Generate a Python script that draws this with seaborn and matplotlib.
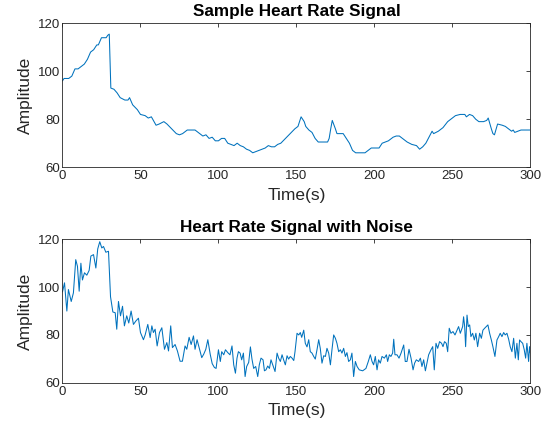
import numpy as np
import pandas as pd
import seaborn as sns
import matplotlib.pyplot as plt

# clean signal (time, amplitude)
t_clean = [0, 1, 4, 6, 8, 10, 12, 14, 16, 18, 20, 22, 23, 25, 28, 29, 30, 31, 33, 35,
           37, 40, 42, 43, 45, 48, 50, 53, 55, 57, 60, 62, 65, 67, 70, 73, 75, 77, 80, 85,
           88, 90, 92, 94, 96, 98, 100, 102, 104, 106, 110, 112, 114, 116, 118, 120, 122, 124, 126, 128,
           130, 132, 134, 136, 138, 140, 143, 146, 149, 151, 152, 153, 155, 156, 158, 160, 162, 164, 170, 171,
           172, 173, 175, 176, 180, 182, 184, 186, 188, 194, 196, 198, 203, 205, 207, 209, 212, 214, 216, 218,
           221, 224, 227, 229, 231, 233, 235, 237, 238, 241, 244, 247, 250, 252, 255, 258, 259, 261, 263, 265,
           267, 270, 272, 273, 275, 276, 277, 279, 282, 284, 286, 288, 289, 290, 292, 294, 296, 300]
hr_clean = [96, 97, 97, 98, 101, 101, 102, 103, 105, 108, 109, 111, 111, 114, 114, 115, 115.5, 93, 92.5, 91,
            89, 88, 88, 89, 86, 84, 82, 81.5, 80.5, 81, 77.5, 78, 79, 78, 76, 74, 73.5, 74, 75.5, 75.5,
            74, 73, 73.5, 72, 72.5, 71, 71, 72, 72, 70, 69, 70, 69, 68.5, 67.5, 67, 66, 66.5, 67, 67.5,
            68, 69, 68.5, 68.5, 69.5, 70, 72, 74, 76, 77, 79, 81, 79, 77, 75.5, 74.5, 72, 70.5, 70.5, 72,
            76, 79.5, 76, 74, 74, 72, 70, 67, 66, 66, 67, 68, 68, 70, 70.5, 71, 72.5, 73, 73, 72,
            70.5, 69.5, 69, 67.5, 68.5, 70, 72.5, 75, 74, 75, 76.5, 79, 80.5, 81.5, 82, 82, 81, 82, 81.5, 80,
            79, 79, 79.5, 80.5, 76, 74, 73.5, 78, 77.5, 77, 76, 75, 75.5, 74.5, 75, 75.5, 75.5, 75.5]

# noisy signal
t_noisy = [0, 1.3, 2.8, 3.8, 5.6, 7, 8.5, 9.6, 10.7, 11.8, 12.8, 14.1, 15.6, 17.1, 18.2, 19.9, 21.4, 22.6, 23.9, 25.2,
           26.3, 27.8, 29.5, 30.8, 32.3, 33.8, 34.8, 35.9, 37.2, 38.5, 39.7, 41.2, 42.5, 44, 45.5, 47, 48.7, 50, 51.9, 53,
           54.7, 56.2, 57.3, 58.3, 59.4, 60.7, 62.2, 63.7, 65.4, 66.9, 68, 69.4, 70.5, 72.2, 73.7, 75.4, 76.9, 78.6, 79.7, 81.2,
           82.5, 84, 85, 86.3, 87.6, 89.3, 90.6, 91.9, 93.2, 94.7, 96, 97.4, 98.5, 100, 101.2, 102.1, 103.4, 104.5, 106, 107.4,
           108.7, 109.8, 110.9, 111.9, 112.8, 113.9, 114.9, 116, 117.1, 118.1, 119.4, 120.5, 121.5, 122.6, 123.9, 125.2, 126.2, 127.3, 128.6, 129.5,
           130.5, 131.6, 132.7, 133.7, 134.8, 136.3, 137.6, 138.6, 139.7, 140.8, 141.8, 142.9, 144, 145, 146.1, 147.2, 148.3, 149.1, 150.4, 151.5,
           152.5, 153.4, 154.7, 155.7, 156.8, 157.9, 158.9, 160, 161.1, 162.1, 163.2, 164.3, 165.3, 166.4, 167.5, 168.6, 169.6, 170.7, 171.8, 172.8,
           173.9, 175, 176, 177.1, 178.2, 179.2, 180.3, 181.4, 182.4, 183.5, 184.6, 185.6, 186.7, 187.8, 188.9, 190.3, 192.5, 194.6, 196.1, 197.4,
           198.5, 199.5, 200.6, 201.7, 202.7, 203.8, 204.9, 206.4, 207.7, 208.5, 209.6, 210.6, 211.7, 212.4, 213.2, 214.5, 215.8, 217.1, 218.8, 219.8,
           220.9, 222.2, 223.5, 224.8, 225.8, 226.9, 228.4, 229.5, 230.5, 231.6, 232.7, 233.7, 234.8, 236.3, 237.4, 238.4, 239.5, 240.6, 241.8, 243.1,
           244, 245, 246.1, 247, 248, 249.1, 250.4, 251.7, 253, 254, 255.1, 256.6, 257.2, 257.9, 258.5, 259.4, 260.2, 261.1, 261.9, 263,
           264.1, 265.1, 266.2, 267.5, 268.6, 269.6, 270.7, 271.8, 272.8, 273.9, 275, 276, 277.3, 278.6, 279.7, 280.7, 281.8, 282.9, 283.9, 285,
           286.1, 287.1, 288.2, 289.3, 290.4, 291.4, 292.3, 293.1, 294, 295.1, 296.1, 297, 297.8, 298.9, 299.5, 300]
hr_noisy = [98, 101.8, 90, 99, 94, 97.6, 111.5, 108.7, 98.3, 110, 103, 106, 105, 107, 113, 113.6, 108, 116, 119, 116.4,
            117, 114.6, 115, 96, 89.6, 89.3, 82.4, 94, 88, 92, 83.8, 88, 85, 90, 84.4, 85.8, 87, 81, 78, 80,
            84.4, 78.9, 83.8, 81, 82.4, 75.4, 81, 83, 74, 76.8, 73.3, 83.8, 74.7, 76, 73.3, 69, 69, 75.4, 74, 79,
            76, 79.6, 74, 78, 74.7, 70.5, 72, 74, 78, 72, 68, 66.4, 66, 73.8, 68.9, 73, 71.7, 73.8, 72.6, 71.7,
            75.4, 67.5, 64, 70.3, 73, 72.4, 69.6, 72.4, 62.6, 66.8, 68.5, 75, 69.9, 66, 66.8, 62.6, 67.5, 70.3, 69.6, 65,
            65.4, 67, 66, 69.6, 67.5, 64.7, 72.4, 70.3, 68.9, 71.7, 69.6, 67.5, 71.3, 69.9, 71, 70.3, 69.3, 73, 80.7, 80,
            81, 79, 82, 76.5, 75, 78, 73, 72.4, 71, 69.9, 73.8, 78, 74.4, 68.2, 71.3, 71, 74.4, 72.4, 67.5, 73.8,
            80, 78.6, 76.5, 73, 73.8, 72.4, 74.4, 71, 72.6, 68.9, 69.6, 72.4, 62.6, 68.9, 66.8, 65.4, 65, 66, 68.9, 71.7,
            68.9, 67.5, 71, 65.4, 69.6, 68.2, 71, 70.3, 71.7, 68.9, 71.7, 71, 72.4, 78.2, 71.7, 71.7, 70.3, 72.4, 75.8, 68.9,
            68.9, 74, 70.3, 65.4, 68.2, 69.6, 68.9, 70.3, 66.8, 69.6, 65, 68.2, 71.7, 73.8, 75.1, 65.4, 76.5, 74.4, 77.2, 76.5,
            75.1, 77.2, 76.5, 73, 82.8, 80.7, 81.4, 80, 82, 83.5, 80.7, 83.5, 87.6, 83.5, 75.1, 88.3, 83.5, 84.2, 79.3, 80.7,
            77.9, 80.7, 75.1, 80.7, 78.6, 82, 82.8, 83.5, 84.2, 80.7, 77.9, 75.1, 71, 77.9, 79.3, 80.7, 79.3, 81, 80, 80.7,
            78.2, 75.1, 73, 78.6, 70.3, 76.5, 69.6, 77.9, 77.2, 76.5, 73.8, 70.3, 76.5, 68.9, 75.1, 72.4]

clean = pd.DataFrame({"time": t_clean, "hr": hr_clean})
noisy = pd.DataFrame({"time": t_noisy, "hr": hr_noisy})

sns.set_style("white")
plt.rcParams['font.family'] = ['Liberation Sans', 'DejaVu Sans']

matlab_blue = "#0072BD"
dark = "#262626"

fig = plt.figure(figsize=(5.53, 4.32), dpi=100)
ax1 = fig.add_axes([0.113, 0.613, 0.846, 0.333])
ax2 = fig.add_axes([0.113, 0.114, 0.846, 0.332])

panels = [(ax1, clean, "Sample Heart Rate Signal"),
          (ax2, noisy, "Heart Rate Signal with Noise")]

for ax, df, title in panels:
    sns.lineplot(data=df, x="time", y="hr", ax=ax, color=matlab_blue, linewidth=0.75)
    ax.set_xlim(0, 300)
    ax.set_ylim(60, 120)
    ax.set_xticks(range(0, 301, 50))
    ax.set_yticks([60, 80, 100, 120])
    ax.set_title(title, fontsize=12.3, fontweight="bold", color="black", pad=5)
    ax.set_xlabel("Time(s)", fontsize=12.5, color=dark, labelpad=4)
    ax.set_ylabel("Amplitude", fontsize=12.5, color=dark, labelpad=3)
    ax.tick_params(direction="in", length=3, width=0.6, colors=dark, labelsize=9.5,
                   top=True, right=True, pad=2)
    for s in ax.spines.values():
        s.set_visible(True)
        s.set_color(dark)
        s.set_linewidth(0.6)

fig.savefig("out.png", dpi=100, facecolor="white")
